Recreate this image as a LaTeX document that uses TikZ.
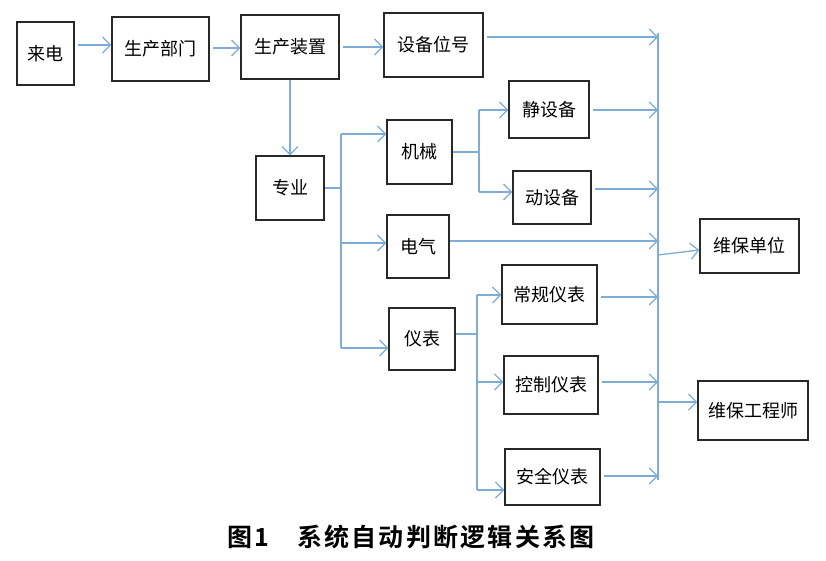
\documentclass[tikz,border=0pt]{standalone}
\usepackage{fontspec}
\setmainfont{Noto Sans CJK SC}
\newfontfamily\capfont{Noto Sans CJK SC}[BoldFont={Noto Sans CJK SC Bold}, LetterSpace=9]
\usepackage{tikz}
\usetikzlibrary{arrows.meta, positioning, calc}
\definecolor{lblue}{RGB}{125, 172, 215}
\definecolor{bdark}{RGB}{40, 40, 40}

\begin{document}
\begin{tikzpicture}[
    x=1pt, y=-1pt,
    box/.style={draw=bdark, line width=1.4pt, fill=white, inner sep=0pt, font=\fontsize{18}{18}\selectfont},
    wire/.style={draw=lblue, line width=1.3pt},
    arr/.style={wire, -{Straight Barb[length=8pt, width=16pt, line width=1.2pt]}},
    gap/.style={shorten <=3pt},
]
    \useasboundingbox (0,0) rectangle (826,561);

    % Top row
    \node[box, minimum width=57pt, minimum height=63pt] (laidian) at (45.5,53.5) {来电};
    \node[box, minimum width=97pt, minimum height=64pt] (bumen) at (160.5,49) {生产部门};
    \node[box, minimum width=98pt, minimum height=64pt] (zhuangzhi) at (290,47) {生产装置};
    \node[box, minimum width=99pt, minimum height=64pt] (weihao) at (433.5,45) {设备位号};

    % Disciplines
    \node[box, minimum width=68pt, minimum height=64pt] (zhuanye) at (290,188) {专业};
    \node[box, minimum width=65pt, minimum height=64pt] (jixie) at (419.5,152) {机械};
    \node[box, minimum width=62pt, minimum height=63pt] (dianqi) at (418,246.5) {电气};
    \node[box, minimum width=66pt, minimum height=62pt] (yibiao) at (422,339) {仪表};

    % Equipment kinds
    \node[box, minimum width=80pt, minimum height=57pt] (jing) at (549,109.5) {静设备};
    \node[box, minimum width=78pt, minimum height=53pt] (dong) at (552,197.5) {动设备};
    \node[box, minimum width=95pt, minimum height=59pt] (changgui) at (549.5,294.5) {常规仪表};
    \node[box, minimum width=94pt, minimum height=58pt] (kongzhi) at (551,385) {控制仪表};
    \node[box, minimum width=95pt, minimum height=56pt] (anquan) at (552.5,477) {安全仪表};

    % Maintenance
    \node[box, minimum width=99pt, minimum height=54pt] (danwei) at (749.5,246) {维保单位};
    \node[box, minimum width=110pt, minimum height=59pt] (gcs) at (753,410.5) {维保工程师};

    % Fork points and bus
    \coordinate (zy0) at (341,188);
    \coordinate (zy1) at (341,134);
    \coordinate (zy2) at (341,243);
    \coordinate (zy3) at (341,348);
    \coordinate (jx0) at (479,152);
    \coordinate (jx1) at (479,110);
    \coordinate (jx2) at (479,192);
    \coordinate (yb0) at (477,334);
    \coordinate (yb1) at (477,295);
    \coordinate (yb2) at (477,382);
    \coordinate (yb3) at (477,490);
    \coordinate (bustop) at (658,33);
    \coordinate (busbot) at (658,480);

    % Main chain
    \draw[arr, gap] (laidian.east |- 0,45) -- (bumen.west |- 0,45);
    \draw[arr, gap] (bumen.east |- 0,48) -- (zhuangzhi.west |- 0,48);
    \draw[arr, gap] (zhuangzhi.east |- 0,47) -- (weihao.west |- 0,47);
    \draw[arr] (zhuangzhi.south) -- (zhuanye.north);

    % Discipline fork
    \draw[wire] (zhuanye.east) -- (zy0);
    \draw[wire] (zy1) -- (zy3);
    \draw[arr] (zy1) -- (zy1 -| jixie.west);
    \draw[arr] (zy2) -- (zy2 -| dianqi.west);
    \draw[arr] (zy3) -- (zy3 -| yibiao.west);

    % Mechanical fork
    \draw[wire] (jixie.east |- jx0) -- (jx0);
    \draw[wire] (jx1) -- (jx2);
    \draw[arr] (jx1) -- (jx1 -| jing.west);
    \draw[arr] (jx2) -- (jx2 -| dong.west);

    % Instrument fork
    \draw[wire] (yibiao.east |- yb0) -- (yb0);
    \draw[wire] (yb1) -- (yb3);
    \draw[arr] (yb1) -- (yb1 -| changgui.west);
    \draw[arr] (yb2) -- (yb2 -| kongzhi.west);
    \draw[arr] (yb3) -- (yb3 -| anquan.west);

    % Into the bus
    \draw[wire] (bustop) -- (busbot);
    \draw[arr, gap] (weihao.east |- 0,37) -- (bustop |- 0,37);
    \draw[arr, gap] (jing.east |- 0,110) -- (bustop |- 0,110);
    \draw[arr, gap] (dong.east |- 0,189) -- (bustop |- 0,189);
    \draw[arr] (dianqi.east |- 0,241) -- (bustop |- 0,241);
    \draw[arr, gap] (changgui.east |- 0,297) -- (bustop |- 0,297);
    \draw[arr, gap] (kongzhi.east |- 0,382) -- (bustop |- 0,382);
    \draw[arr, gap] (anquan.east |- 0,476) -- (bustop |- 0,476);

    % Out of the bus
    \draw[arr] (bustop |- 0,255) -- (danwei.west |- 0,250);
    \draw[arr] (bustop |- 0,402) -- (gcs.west |- 0,402);

    % Caption
    \node[font=\capfont\bfseries\fontsize{25}{25}\selectfont] (caption) at (411,537) {图1\hspace{1.1em}系统自动判断逻辑关系图};
\end{tikzpicture}
\end{document}
